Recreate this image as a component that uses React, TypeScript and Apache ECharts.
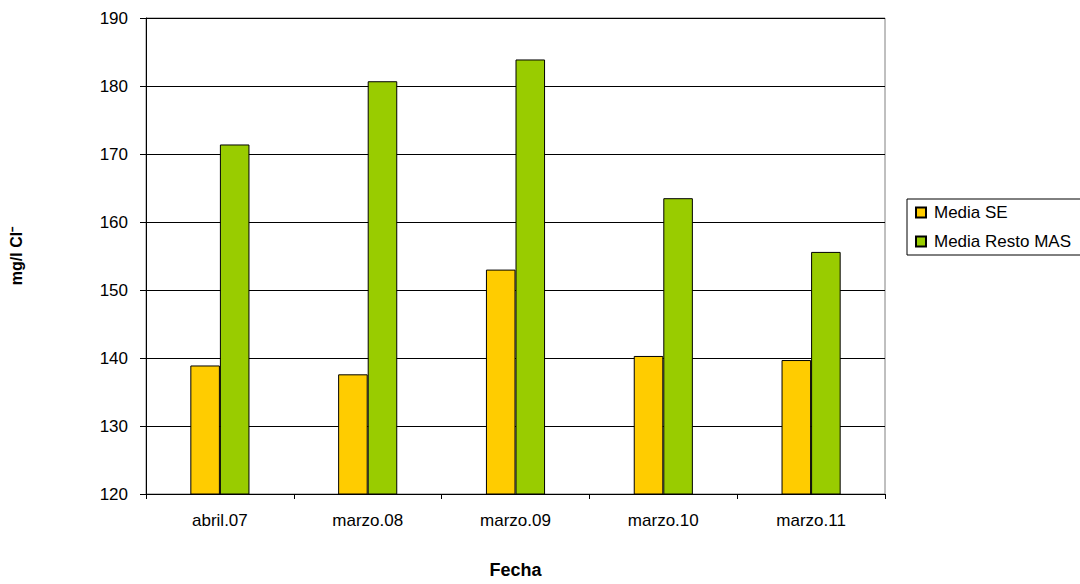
import React, { useEffect, useRef } from "react";
import * as echarts from "echarts";

const categories = ["abril.07", "marzo.08", "marzo.09", "marzo.10", "marzo.11"];
const mediaSE = [138.9, 137.6, 153.0, 140.3, 139.7];
const mediaResto = [171.4, 180.7, 183.9, 163.5, 155.6];
const yTicks = { min: 120, max: 190, interval: 10 };

const FONT = "'Liberation Sans', Arial, sans-serif";

export default function App() {
  const ref = useRef<HTMLDivElement>(null);
  useEffect(() => {
    if (!ref.current) return;
    const chart = echarts.init(ref.current, undefined, { renderer: "svg" });
    chart.setOption({
      animation: false,
      backgroundColor: "#ffffff",
      textStyle: { fontFamily: FONT },
      grid: {
        left: 144,
        top: 18,
        width: 741,
        height: 481,
        show: true,
        borderColor: "#808080",
        borderWidth: 1,
      },
      legend: {
        orient: "vertical",
        left: 907,
        top: 199,
        padding: [5, 30, 5, 8],
        itemGap: 12,
        itemWidth: 10,
        itemHeight: 10,
        borderColor: "#000000",
        borderWidth: 1,
        borderRadius: 0,
        textStyle: { fontFamily: FONT, fontSize: 17, color: "#000", padding: [0, 0, 0, 3] },
        data: [
          { name: "Media SE", icon: "rect" },
          { name: "Media Resto MAS", icon: "rect" },
        ],
      },
      xAxis: {
        type: "category",
        data: categories,
        name: "Fecha",
        nameLocation: "middle",
        nameGap: 67,
        nameTextStyle: { fontFamily: FONT, fontSize: 18, fontWeight: "bold", color: "#000" },
        axisLine: { lineStyle: { color: "#000", width: 1 } },
        axisTick: { show: true, alignWithLabel: false, length: 5, lineStyle: { color: "#000" } },
        axisLabel: { fontFamily: FONT, fontSize: 17, color: "#000", margin: 18 },
      },
      yAxis: {
        type: "value",
        min: yTicks.min,
        max: yTicks.max,
        interval: yTicks.interval,
        name: "mg/l Cl⁻",
        nameLocation: "middle",
        nameGap: 122,
        nameRotate: 90,
        nameTextStyle: { fontFamily: FONT, fontSize: 16, fontWeight: "bold", color: "#000" },
        axisLine: { show: true, lineStyle: { color: "#000", width: 1 } },
        axisTick: { show: true, length: 6, lineStyle: { color: "#000" } },
        axisLabel: { fontFamily: FONT, fontSize: 17, color: "#000", margin: 18 },
        splitLine: { show: true, lineStyle: { color: "#000", width: 1 } },
      },
      series: [
        {
          name: "Media SE",
          type: "bar",
          data: mediaSE,
          barWidth: "20%",
          barGap: "0%",
          itemStyle: { color: "#ffcc00", borderColor: "#000", borderWidth: 1 },
        },
        {
          name: "Media Resto MAS",
          type: "bar",
          data: mediaResto,
          barWidth: "20%",
          barGap: "0%",
          itemStyle: { color: "#99cc00", borderColor: "#000", borderWidth: 1 },
        },
      ],
    });
    return () => chart.dispose();
  }, []);
  return (
    <div
      ref={ref}
      style={{ position: "absolute", left: 0, top: 0, width: 1080, height: 584 }}
    />
  );
}
